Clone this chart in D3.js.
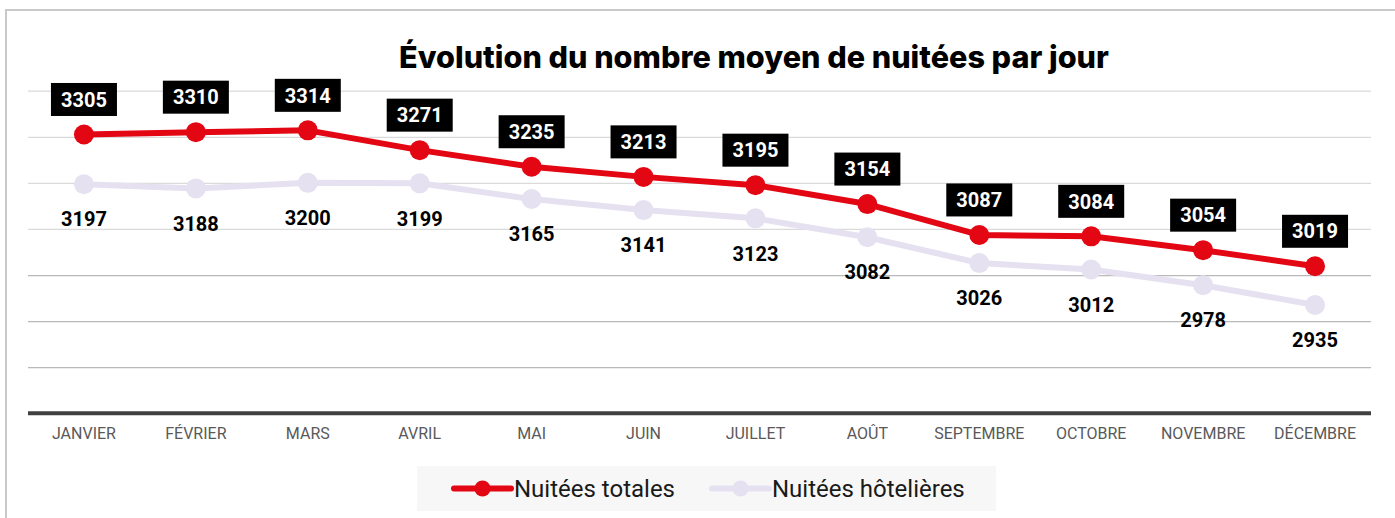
<!DOCTYPE html>
<html>
<head>
<meta charset="utf-8">
<script src="https://cdn.jsdelivr.net/npm/d3@7"></script>
<style>
  body { margin: 0; background: #fff; }
  svg { display: block; }
</style>
</head>
<body>
<div id="chart"></div>
<script>
// data
var months = ["JANVIER", "FÉVRIER", "MARS", "AVRIL", "MAI", "JUIN", "JUILLET", "AOÛT", "SEPTEMBRE", "OCTOBRE", "NOVEMBRE", "DÉCEMBRE"]
var totales = [3305, 3310, 3314, 3271, 3235, 3213, 3195, 3154, 3087, 3084, 3054, 3019]
var hotelieres = [3197, 3188, 3200, 3199, 3165, 3141, 3123, 3082, 3026, 3012, 2978, 2935]
var gridValues = [2800, 2900, 3000, 3100, 3200, 3300, 3400]
var seriesNames = ["Nuitées totales", "Nuitées hôtelières"]
var title = "Évolution du nombre moyen de nuitées par jour"

var W = 1395, H = 518
var red = "#e30613", lav = "#e6e1f1"

var svg = d3.select("#chart").append("svg")
  .attr("width", W)
  .attr("height", H)

// outer frame (top + left visible)
svg.append("path")
  .attr("d", "M6,518 V10 H1395")
  .attr("fill", "none")
  .attr("stroke", "#c9c9c9")
  .attr("stroke-width", 2)

// scales
var x = d3.scaleBand().domain(months).range([28, 1371])
var cx = function(m) { return x(m) + x.bandwidth() / 2 }
var y = d3.scaleLinear().domain([2700, 3400]).range([413.3, 90.7])

// gridlines
var grid = svg.append("g")
  .attr("transform", "translate(28,0)")
  .call(d3.axisLeft(y).tickValues(gridValues).tickSize(-1343).tickFormat(""))
grid.select(".domain").remove()
grid.selectAll(".tick line")
  .attr("stroke", function(d) { return d <= 3000 ? "#b9b9b9" : "#dadada" })
  .attr("stroke-width", 1.3)

// baseline
svg.append("line")
  .attr("x1", 28).attr("x2", 1371)
  .attr("y1", y(2700)).attr("y2", y(2700))
  .attr("stroke", "#404040")
  .attr("stroke-width", 4)

// x axis labels
var xAxis = svg.append("g")
  .attr("transform", "translate(0," + 416 + ")")
  .call(d3.axisBottom(x).tickSize(0).tickPadding(12))
xAxis.select(".domain").remove()
xAxis.selectAll("text")
  .attr("font-family", "Roboto, sans-serif")
  .attr("font-size", 16)
  .attr("fill", "#595959")

// title
var t = svg.append("text")
  .attr("x", 754)
  .attr("y", 68)
  .attr("text-anchor", "middle")
  .attr("font-family", "Inter, 'Open Sans', sans-serif")
  .attr("font-weight", 800)
  .attr("font-size", 28)
  .attr("fill", "#000")
  .text(title)
var tw = t.node().getComputedTextLength()
t.attr("font-size", 28 * 710 / tw)

// lines
var line = function(vals) {
  return d3.line()
    .x(function(d, i) { return cx(months[i]) })
    .y(function(d) { return y(d) })(vals)
}

function drawSeries(vals, color) {
  svg.append("path")
    .attr("d", line(vals))
    .attr("fill", "none")
    .attr("stroke", color)
    .attr("stroke-width", 6)
    .attr("stroke-linejoin", "round")
  svg.append("g").selectAll("circle")
    .data(vals)
    .enter().append("circle")
    .attr("cx", function(d, i) { return cx(months[i]) })
    .attr("cy", function(d) { return y(d) })
    .attr("r", 10)
    .attr("fill", color)
}
drawSeries(hotelieres, lav)
drawSeries(totales, red)

// labels for hotel series (below)
svg.append("g").selectAll("text")
  .data(hotelieres)
  .enter().append("text")
  .attr("x", function(d, i) { return cx(months[i]) })
  .attr("y", function(d) { return y(d) + 35 })
  .attr("dy", "0.36em")
  .attr("text-anchor", "middle")
  .attr("font-family", "Roboto, sans-serif")
  .attr("font-weight", 700)
  .attr("font-size", 20)
  .attr("fill", "#000")
  .text(function(d) { return d })

// labels for totals (black boxes above)
var lab = svg.append("g").selectAll("g")
  .data(totales)
  .enter().append("g")
  .attr("transform", function(d, i) { return "translate(" + cx(months[i]) + "," + (y(d) - 35) + ")" })
lab.append("rect")
  .attr("x", -33).attr("y", -16.5)
  .attr("width", 66).attr("height", 33)
  .attr("fill", "#000")
lab.append("text")
  .attr("text-anchor", "middle")
  .attr("dy", "0.36em")
  .attr("font-family", "Roboto, sans-serif")
  .attr("font-weight", 700)
  .attr("font-size", 20)
  .attr("fill", "#fff")
  .text(function(d) { return d })

// legend
var legend = svg.append("g")
legend.append("rect")
  .attr("x", 417).attr("y", 466)
  .attr("width", 579).attr("height", 45)
  .attr("fill", "#f7f7f7")

var legX = [454, 712]
var colors = [red, lav]
seriesNames.forEach(function(name, i) {
  var g = legend.append("g").attr("transform", "translate(" + legX[i] + ",488.5)")
  g.append("line")
    .attr("x1", 0).attr("x2", 57)
    .attr("stroke", colors[i])
    .attr("stroke-width", 6)
    .attr("stroke-linecap", "round")
  g.append("circle")
    .attr("cx", 28.5).attr("r", 8)
    .attr("fill", colors[i])
  g.append("text")
    .attr("x", 60)
    .attr("dy", "0.36em")
    .attr("font-family", "Roboto, sans-serif")
    .attr("font-size", 24)
    .attr("fill", "#1a1a1a")
    .text(name)
})
</script>
</body>
</html>
